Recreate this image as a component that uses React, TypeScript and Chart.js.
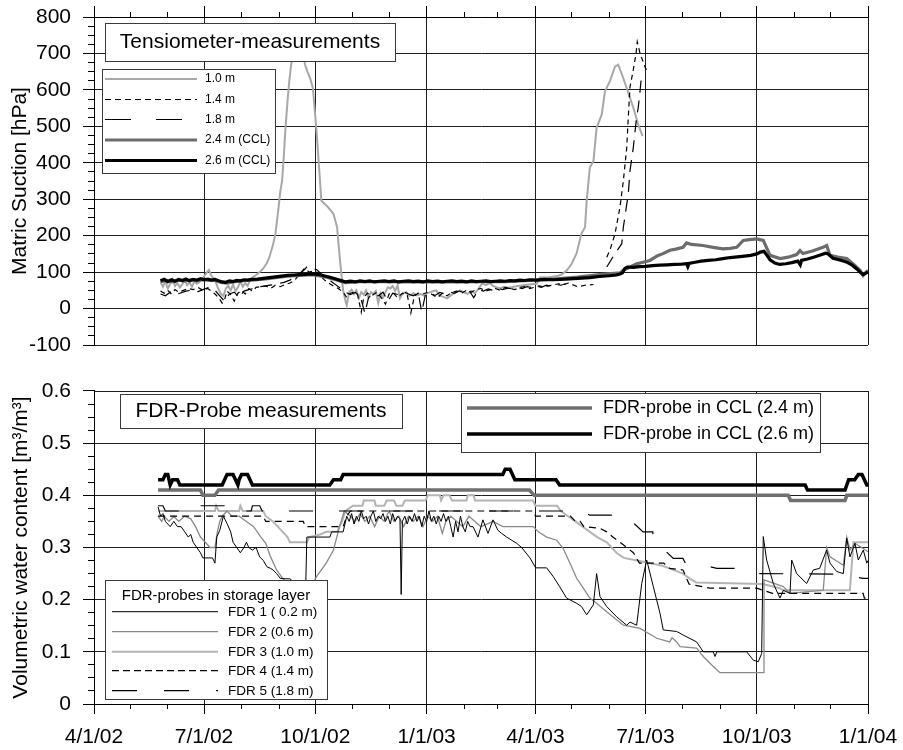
import React, { useEffect, useRef } from 'react';
import { Chart, registerables } from 'chart.js';

Chart.register(...registerables);

const FONT = '"Liberation Sans", Arial, Helvetica, sans-serif';

// ---- X axis: days since 1 April 2002 ----
const xTickDays = [0, 91, 183, 275, 365, 456, 548, 640];
const xTickLabels = ['4/1/02', '7/1/02', '10/1/02', '1/1/03', '4/1/03', '7/1/03', '10/1/03', '1/1/04'];

// ---- Tensiometer series: [day, hPa] ----
const tens10: [number, number | null][] = [
  [55, 72], [57, 60], [59, 75], [61, 55], [63, 68], [65, 80], [67, 62], [69, 70], [71, 58], [73, 66], [75, 78], [77, 64],
  [79, 72], [81, 60], [83, 75], [85, 68], [87, 72], [89, 80], [91, 88], [93, 98], [95, 106], [97, 90], [99, 82], [101, 70],
  [103, 52], [105, 40], [107, 35], [109, 55], [111, 62], [113, 50], [115, 66], [117, 48], [119, 58], [121, 75], [123, 60],
  [125, 70], [127, 62], [129, 78], [131, 85], [134, 92], [137, 100], [140, 110], [143, 125], [145, 141], [148, 175], [150, 205],
  [152, 260], [154, 320], [155.5, 350], [157, 420], [158, 478], [160, 569], [161.5, 624], [163, 669], [165, 700], [167, 735],
  [169, 748], [171, 730], [173, 700], [174.5, 669], [176.5, 650], [178.6, 633], [181, 605], [184, 487], [186.5, 369],
  [188, 296], [193, 280], [198, 260], [201, 223], [203.4, 132], [206, 50], [208, 20], [209, 9], [211, 45], [213, 52],
  [215, 40], [217, 50], [219, 28], [221, 45], [223, 38], [225, 50], [227, 30], [229, 45], [231, 40], [233, 48], [235, 15],
  [237, 42], [239, 30], [241, 45], [243, 58], [245, 55], [247, 62], [249, 48], [251, 64], [253, 28], [255, 40], [258, 45],
  [261, 35], [264, 42], [267, 36], [270, 40], [273, 35], [275, 41], [278, 45], [281, 48], [283, 50], [286, 35], [289, 32],
  [292, 28], [295, 36], [297, 41], [300, 46], [303, 50], [306, 44], [309, 40], [312, 48], [315, 42], [318, 55], [321, 69],
  [324, 64], [327, 70], [330, 62], [333, 58], [336, 56], [339, 60], [342, 57], [346, 59], [350, 62], [355, 64], [360, 66],
  [366, 68], [369, 86], [374, 85], [379, 87], [384, 90], [387, 94], [391, 105], [395, 123], [399, 151], [403, 205],
  [406, 223], [407.4, 296], [410, 387], [413, 405], [415.6, 496], [419.8, 532], [422.5, 596], [426.6, 624], [430.8, 664],
  [433.5, 669], [437.7, 632], [443.2, 578], [446, 551], [450, 505], [453.6, 473],
];

const tens14: [number, number | null][] = [
  [55, 48], [58, 42], [61, 50], [64, 40], [67, 52], [70, 45], [74, 50], [78, 55], [82, 52], [86, 58], [90, 50], [94, 55],
  [97, 48], [100, 40], [103, 30], [106, 15], [108, 25], [110, 48], [113, 38], [116, 20], [119, 42], [122, 50], [125, 40],
  [128, 55], [131, 48], [134, 58], [138, 60], [142, 62], [146, 55], [150, 64], [154, 60], [158, 66], [162, 70], [166, 78],
  [170, 95], [174, 110], [178, 100], [182, 104], [186, 95], [190, 80], [194, 70], [198, 62], [202, 55], [206, 45], [209, 30],
  [212, 42], [215, 45], [218, 38], [221, -10], [223, 30], [226, 42], [230, 36], [234, 45], [238, 28], [241, 12], [244, 40],
  [247, 44], [251, 30], [255, 42], [259, 38], [262, -12], [265, 35], [268, 42], [272, 40], [276, 45], [280, 38], [284, 30],
  [288, 42], [292, 35], [296, 45], [300, 48], [304, 42], [308, 50], [312, 45], [316, 52], [320, 55], [324, 48], [328, 52],
  [332, 55], [336, 50], [340, 58], [344, 55], [348, 52], [352, 58], [356, 60], [360, 55], [364, 58], [368, 62], [372, 60],
  [376, 62], [380, 65], [384, 68], [388, 65], [392, 70], [400, 60], [406, 64], [413, 66], [418, null],
  [424, 141], [426.6, 160], [430.8, 205], [434.9, 278], [437.7, 350], [440.5, 441], [441.8, 526], [443.2, 608],
  [445.9, 654], [448.2, 700], [449.2, 732], [451.5, 700], [455.6, 663], [458.3, 645],
];

const tens18: [number, number | null][] = [
  [55, 40], [59, 35], [63, 45], [67, 38], [71, 42], [76, 48], [80, 50], [85, 45], [90, 52], [95, 58], [100, 50], [104, 35],
  [108, 20], [112, 40], [116, 45], [120, 30], [124, 48], [128, 52], [132, 55], [137, 60], [142, 62], [147, 65], [152, 68],
  [157, 72], [162, 78], [167, 88], [172, 100], [176, 114], [180, 110], [184, 107], [188, 95], [192, 85], [196, 75],
  [200, 65], [204, 55], [208, 45], [212, 38], [216, 44], [220, 36], [224, -13], [227, 30], [231, 40], [235, 35], [239, 45],
  [243, 20], [247, 42], [252, 38], [256, 46], [260, 40], [264, 35], [268, 44], [271, -9], [274, 38], [278, 42], [282, 36],
  [286, 44], [290, 40], [294, 46], [298, 42], [302, 48], [306, 44], [310, 50], [314, 30], [318, 52], [322, 48], [326, 54],
  [330, 50], [334, 55], [338, 52], [342, 56], [346, 54], [350, 58], [354, 55], [358, 60], [362, 58], [366, 62], [370, 58],
  [374, 64], [378, 62], [382, 66], [386, 64], [390, 68], [395, null],
  [424, 114], [430.8, 151], [436.4, 178], [437.7, 223], [441.8, 315], [443.2, 378], [445.9, 441], [448.7, 526],
  [450, 551], [451.5, 597], [452.9, 645],
];

const tens24: [number, number][] = [
  [55, 74], [60, 77], [65, 73], [70, 78], [75, 75], [80, 79], [85, 76], [90, 80], [95, 77], [100, 78], [105, 72],
  [110, 70], [115, 73], [120, 75], [125, 77], [130, 78], [140, 81], [150, 85], [160, 89], [170, 91], [180, 93], [190, 88],
  [200, 79], [208, 71], [220, 74], [240, 74], [260, 73], [280, 73], [300, 73], [320, 74], [340, 74], [360, 77],
  [380, 81], [400, 86], [420, 94], [435, 98], [437.4, 105], [442, 112], [448.7, 123], [454, 127], [459.7, 132],
  [466, 145], [470, 150], [476.3, 160], [481, 163], [487, 168], [490, 180], [494, 176], [503.6, 173], [512, 168],
  [520, 164], [526, 165], [531.4, 168], [536.9, 187], [542, 189], [548, 191], [553.4, 187], [559, 146], [567.3, 137],
  [574, 141], [581, 148], [583.8, 159], [586.2, 151], [594, 158], [602.8, 168], [605.8, 173], [608.6, 146],
  [615, 141], [622.4, 137], [628, 122], [633.4, 105], [636, 91], [638, 98], [640, 105],
];

const tens26: [number, number][] = [
  [55, 76], [58, 80], [61, 74], [64, 79], [67, 75], [70, 80], [73, 77], [76, 81], [79, 76], [82, 80], [85, 78], [88, 82],
  [91, 79], [94, 81], [97, 78], [100, 80], [103, 76], [106, 73], [109, 72], [112, 76], [115, 74], [118, 77], [121, 76],
  [124, 79], [127, 78], [130, 80], [135, 81], [140, 83], [145, 85], [150, 87], [155, 89], [160, 91], [165, 92], [170, 93],
  [175, 94], [180, 95], [185, 94], [190, 90], [195, 86], [200, 81], [205, 76], [208, 73], [212, 75], [216, 73], [220, 76],
  [224, 74], [228, 76], [232, 73], [236, 75], [240, 76], [244, 74], [248, 76], [252, 73], [256, 75], [260, 76], [264, 74],
  [268, 75], [272, 73], [276, 76], [280, 74], [284, 75], [288, 73], [292, 75], [296, 76], [300, 74], [304, 75], [308, 73],
  [312, 76], [316, 74], [320, 75], [324, 76], [328, 74], [332, 75], [336, 76], [340, 75], [344, 77], [348, 76], [352, 78],
  [356, 77], [360, 79], [366, 78], [372, 80], [380, 79], [390, 81], [400, 83], [410, 85], [418, 88], [426, 90], [432, 92],
  [435, 95], [437, 98], [439, 110], [441, 114], [446, 113], [451, 115], [456, 116], [462, 118], [468, 119], [474, 120],
  [480, 121], [486, 122], [490, 123], [491, 115], [492, 124], [497, 127], [502, 130], [508, 132], [514, 134], [520, 137],
  [526, 140], [532, 142], [538, 144], [543, 146], [548, 150], [551, 155], [554, 157], [556, 148], [559, 134], [563, 125],
  [567, 121], [572, 123], [577, 126], [582, 130], [584, 120], [585, 132], [590, 136], [595, 141], [600, 146], [605, 152],
  [607, 150], [611, 138], [616, 134], [622, 128], [627, 119], [631, 108], [634, 98], [636, 93], [638, 97], [640, 100],
];

// ---- FDR series: [day, m3/m3] ----
const fdr1: [number, number][] = [
  [53, 0.378], [55, 0.36], [57, 0.365], [59, 0.35], [61, 0.345], [63, 0.34], [66, 0.35], [69, 0.34], [72, 0.34],
  [75, 0.33], [78, 0.32], [80, 0.325], [82, 0.31], [85, 0.3], [88, 0.29], [90, 0.28], [95, 0.28], [98, 0.28],
  [100, 0.27], [101.5, 0.32], [104, 0.333], [107, 0.36], [110, 0.346], [113, 0.33], [115, 0.31], [118, 0.3],
  [121, 0.29], [124, 0.3], [126, 0.31], [128, 0.3], [131, 0.295], [134, 0.3], [137, 0.282], [140, 0.275],
  [143, 0.263], [146, 0.26], [148, 0.257], [151, 0.25], [154, 0.241], [158, 0.24], [162, 0.24], [166, 0.232],
  [172, 0.225], [175, 0.22], [176, 0.32], [195, 0.32], [196.5, 0.33], [206, 0.33], [209, 0.36], [211, 0.35],
  [213, 0.365], [215, 0.345], [217, 0.36], [219, 0.35], [221, 0.37], [223, 0.355], [225, 0.36], [227, 0.345],
  [229, 0.36], [231, 0.37], [233, 0.35], [235, 0.36], [237, 0.355], [239, 0.365], [241, 0.35], [243, 0.36],
  [245, 0.345], [247, 0.365], [249, 0.35], [251, 0.36], [253, 0.355], [254, 0.21], [255, 0.35], [257, 0.36],
  [259, 0.345], [261, 0.36], [263, 0.35], [265, 0.365], [267, 0.35], [269, 0.36], [271, 0.34], [273, 0.36],
  [275, 0.35], [277, 0.37], [279, 0.35], [281, 0.36], [283, 0.345], [285, 0.36], [287, 0.35], [289, 0.365],
  [291, 0.35], [293, 0.36], [295, 0.34], [297, 0.32], [299, 0.35], [301, 0.33], [303, 0.36], [305, 0.34],
  [307, 0.33], [309, 0.35], [311, 0.34], [313.4, 0.34], [317.5, 0.32], [321.6, 0.353], [325.8, 0.327],
  [329.9, 0.353], [334, 0.333], [337.1, 0.327], [341.2, 0.32], [349.5, 0.308], [353.6, 0.3], [360.5, 0.28],
  [365.2, 0.261], [374.3, 0.261], [379.8, 0.244], [385, 0.225], [390.8, 0.203], [399.1, 0.193], [403, 0.187],
  [407.4, 0.171], [412.9, 0.19], [415.6, 0.25], [418.4, 0.206], [423.9, 0.187], [432.2, 0.167], [440.5, 0.151],
  [443.2, 0.157], [448.7, 0.151], [452.9, 0.231], [457, 0.276], [462.5, 0.225], [468, 0.174], [470.7, 0.142],
  [481.8, 0.139], [487.3, 0.132], [498.3, 0.119], [503.8, 0.1], [512.1, 0.1], [513.5, 0.091], [515, 0.1],
  [539.7, 0.1], [545.2, 0.084], [549.3, 0.081], [552.1, 0.097], [553.4, 0.321], [556.2, 0.276], [561.7, 0.231],
  [567.2, 0.203], [570, 0.218], [575.5, 0.212], [576.9, 0.276], [581, 0.25], [589.3, 0.231], [594.8, 0.257],
  [600, 0.26], [605.8, 0.295], [608.6, 0.27], [614.1, 0.254], [619.6, 0.25], [622.4, 0.318], [625.1, 0.282],
  [629.2, 0.308], [632, 0.276], [636.1, 0.295], [639, 0.27], [640, 0.275],
];

const fdr2: [number, number][] = [
  [53, 0.36], [56, 0.35], [58, 0.36], [62, 0.35], [66, 0.36], [70, 0.35], [75, 0.36], [80, 0.355], [84, 0.34],
  [88, 0.32], [92, 0.31], [96, 0.3], [100, 0.3], [102, 0.33], [104, 0.35], [106, 0.36], [110, 0.37], [114, 0.36],
  [120, 0.36], [126, 0.35], [132, 0.34], [138, 0.32], [142, 0.308], [146, 0.282], [151, 0.257], [156, 0.241],
  [162, 0.225], [170, 0.22], [178, 0.22], [184, 0.244], [192, 0.27], [198, 0.295], [203, 0.34], [207, 0.37],
  [212, 0.36], [216, 0.35], [220, 0.365], [224, 0.35], [228, 0.36], [232, 0.34], [236, 0.36], [240, 0.35],
  [244, 0.37], [248, 0.35], [252, 0.36], [256, 0.34], [260, 0.36], [264, 0.35], [268, 0.36], [272, 0.34],
  [276, 0.36], [280, 0.35], [284, 0.36], [288, 0.327], [291, 0.35], [295, 0.36], [300, 0.35], [305, 0.34],
  [310, 0.36], [315, 0.35], [320, 0.34], [330, 0.35], [338, 0.34], [363.2, 0.34], [367.4, 0.33], [374.3, 0.32],
  [382.6, 0.314], [388, 0.298], [393.6, 0.27], [399.1, 0.241], [404.6, 0.222], [410, 0.203], [415.6, 0.193],
  [423.9, 0.177], [437.7, 0.151], [451.5, 0.145], [465.3, 0.126], [476, 0.119], [478, 0.127], [481.8, 0.119],
  [484.6, 0.11], [498.3, 0.107], [503.8, 0.091], [512.1, 0.072], [517.6, 0.06], [553.4, 0.06], [554, 0.238],
  [570, 0.225], [575.5, 0.212], [603, 0.218], [605.8, 0.3], [608.6, 0.282], [619.6, 0.266], [622.4, 0.32],
  [625.1, 0.295], [629.2, 0.308], [640, 0.292],
];

const fdr3: [number, number][] = [
  [53, 0.37], [100, 0.37], [101, 0.38], [103, 0.37], [120, 0.37], [121, 0.38], [123, 0.37], [140, 0.37],
  [142, 0.36], [148, 0.35], [152, 0.34], [156, 0.33], [160, 0.32], [162, 0.31], [176, 0.31], [178, 0.32],
  [187, 0.325], [192, 0.33], [201, 0.33], [205, 0.35], [208, 0.37], [214, 0.38], [222, 0.38], [223, 0.39],
  [232, 0.39], [233, 0.38], [240, 0.38], [242, 0.39], [248, 0.39], [250, 0.38], [255, 0.38], [257, 0.39],
  [274, 0.39], [276, 0.4], [286, 0.4], [287, 0.39], [289, 0.4], [294, 0.4], [296, 0.39], [308, 0.39], [309, 0.4],
  [314, 0.4], [315, 0.39], [363, 0.39], [365, 0.38], [383, 0.38], [386, 0.37], [392, 0.36], [398, 0.35],
  [404, 0.34], [410, 0.33], [416, 0.32], [424, 0.31], [432, 0.29], [438, 0.28], [449, 0.275], [460, 0.27],
  [470, 0.265], [476, 0.26], [487, 0.25], [493, 0.24], [498, 0.233], [553, 0.23], [567, 0.222], [570, 0.218],
  [625, 0.218], [628, 0.31], [640, 0.31],
];

const fdr4: [number, number][] = [
  [53, 0.36], [140, 0.36], [142, 0.35], [173, 0.35], [175, 0.34], [206, 0.34], [209, 0.36], [212, 0.37],
  [363, 0.37], [365, 0.36], [394, 0.36], [398, 0.35], [402, 0.35], [405, 0.34], [418, 0.337], [424, 0.33],
  [429, 0.32], [435, 0.31], [446, 0.29], [451, 0.27], [471, 0.27], [476, 0.26], [487, 0.257], [492, 0.23],
  [509, 0.222], [548, 0.222], [561, 0.212], [636, 0.212], [637, 0.203], [640, 0.203],
];

const fdr5: [number, number][] = [
  [53, 0.38], [57, 0.38], [59, 0.37], [86, 0.37], [87, 0.38], [109, 0.38], [110, 0.37], [130, 0.37], [131, 0.38],
  [137, 0.38], [139, 0.37], [363, 0.37], [404, 0.37], [410, 0.362], [440, 0.362], [447, 0.345], [454, 0.33],
  [462, 0.33], [463, 0.311], [468, 0.311], [474, 0.29], [479, 0.279], [487, 0.279], [489, 0.27], [497, 0.27],
  [506, 0.265], [515, 0.26], [533, 0.26], [536, 0.254], [545, 0.25], [617, 0.249], [625, 0.245], [636, 0.241],
  [640, 0.241],
];

const ccl24: [number, number][] = [
  [53, 0.41], [88, 0.41], [90, 0.4], [100, 0.4], [103, 0.41], [360, 0.41], [364, 0.4], [574, 0.4], [576, 0.39],
  [621, 0.39], [622.5, 0.4], [640, 0.4],
];

const ccl26: [number, number][] = [
  [53, 0.43], [57, 0.43], [59, 0.44], [61, 0.44], [63, 0.42], [65, 0.43], [69, 0.43], [71, 0.42], [106, 0.42],
  [108, 0.43], [110, 0.44], [115, 0.44], [117, 0.43], [119, 0.42], [120, 0.43], [122, 0.44], [127, 0.44],
  [129, 0.43], [131, 0.42], [195, 0.42], [198, 0.43], [204, 0.43], [206, 0.44], [338, 0.44], [340, 0.45],
  [344, 0.45], [346, 0.44], [348, 0.43], [382, 0.43], [385, 0.42], [588, 0.42], [590, 0.41], [621, 0.41],
  [624, 0.43], [629, 0.43], [632, 0.44], [635, 0.44], [639, 0.42], [640, 0.42],
];

type Sty = { color: string; width: number; dash: number[]; legendDash: number[] };
const S10: Sty = { color: '#a8a8a8', width: 2, dash: [], legendDash: [] };
const S14: Sty = { color: '#000000', width: 1.2, dash: [5, 4], legendDash: [6, 4] };
const S18: Sty = { color: '#000000', width: 1.2, dash: [12, 8], legendDash: [26, 25] };
const S24: Sty = { color: '#6c6c6c', width: 3.2, dash: [], legendDash: [] };
const S26: Sty = { color: '#000000', width: 3.2, dash: [], legendDash: [] };
const F1: Sty = { color: '#000000', width: 1, dash: [], legendDash: [] };
const F2: Sty = { color: '#8a8a8a', width: 1.3, dash: [], legendDash: [] };
const F3: Sty = { color: '#b4b4b4', width: 2, dash: [], legendDash: [] };
const F4: Sty = { color: '#000000', width: 1.2, dash: [7, 5], legendDash: [7, 4] };
const F5: Sty = { color: '#000000', width: 1.2, dash: [24, 26], legendDash: [25, 27] };
const C24: Sty = { color: '#707070', width: 3.5, dash: [], legendDash: [] };
const C26: Sty = { color: '#000000', width: 3.5, dash: [], legendDash: [] };

function ds(label: string, pts: [number, number | null][], s: Sty, order: number) {
  return {
    label,
    data: pts.map(([x, y]) => ({ x, y })),
    borderColor: s.color,
    borderWidth: s.width,
    borderDash: s.dash,
    pointRadius: 0,
    tension: 0,
    fill: false,
    spanGaps: false,
    order,
  };
}

function monthDays(): { d: number; major: boolean }[] {
  const out: { d: number; major: boolean }[] = [];
  const base = Date.UTC(2002, 3, 1);
  for (let i = 0; i <= 21; i++) {
    const y = 2002 + Math.floor((3 + i) / 12);
    const m = (3 + i) % 12;
    out.push({ d: (Date.UTC(y, m, 1) - base) / 86400000, major: m % 3 === 0 });
  }
  return out;
}

const al = (p: number) => Math.round(p - 0.5) + 0.5;

function line(ctx: CanvasRenderingContext2D, x1: number, x2: number, y: number, s: Sty) {
  ctx.save();
  ctx.strokeStyle = s.color;
  ctx.lineWidth = s.width;
  ctx.setLineDash(s.legendDash);
  ctx.beginPath();
  ctx.moveTo(x1, y);
  ctx.lineTo(x2, y);
  ctx.stroke();
  ctx.restore();
}

function box(ctx: CanvasRenderingContext2D, x: number, y: number, w: number, h: number) {
  ctx.save();
  ctx.fillStyle = '#ffffff';
  ctx.fillRect(x, y, w, h);
  ctx.strokeStyle = '#3a3a3a';
  ctx.lineWidth = 1;
  ctx.strokeRect(al(x), al(y), Math.round(w), Math.round(h));
  ctx.restore();
}

function text(ctx: CanvasRenderingContext2D, t: string, x: number, y: number, size: number, align: CanvasTextAlign) {
  ctx.save();
  ctx.fillStyle = '#000';
  ctx.font = `${size}px ${FONT}`;
  ctx.textAlign = align;
  ctx.textBaseline = 'middle';
  ctx.fillText(t, x, y);
  ctx.restore();
}

function ticksPlugin(xSide: 'top' | 'bottom', yStep: number, yMajor: number) {
  return {
    id: 'ticksPlugin',
    afterDraw(chart: any) {
      const { ctx, chartArea: a, scales } = chart;
      const xs = scales.x;
      const ys = scales.y;
      ctx.save();
      ctx.strokeStyle = '#000';
      ctx.lineWidth = 1;
      ctx.setLineDash([]);
      ctx.beginPath();
      const n = Math.round((ys.max - ys.min) / yStep);
      for (let i = 0; i <= n; i++) {
        const v = ys.min + i * yStep;
        const major = Math.abs(v / yMajor - Math.round(v / yMajor)) < 1e-6;
        const y = al(ys.getPixelForValue(v));
        ctx.moveTo(a.left - (major ? 11 : 6), y);
        ctx.lineTo(a.left + (major ? 1 : 0), y);
      }
      for (const m of monthDays()) {
        const x = al(xs.getPixelForValue(m.d));
        if (xSide === 'top') {
          ctx.moveTo(x, a.top - (m.major ? 11 : 5));
          ctx.lineTo(x, a.top);
        } else {
          ctx.moveTo(x, a.bottom);
          ctx.lineTo(x, a.bottom + (m.major ? 10 : 5));
        }
      }
      ctx.stroke();
      ctx.restore();
    },
  };
}

const topOverlay = {
  id: 'topOverlay',
  afterDraw(chart: any) {
    const ctx = chart.ctx as CanvasRenderingContext2D;
    box(ctx, 105, 23, 290, 38);
    text(ctx, 'Tensiometer-measurements', 250, 42.5, 21, 'center');
    box(ctx, 102, 69, 173, 104);
    const items: [string, Sty][] = [['1.0 m', S10], ['1.4 m', S14], ['1.8 m', S18], ['2.4 m (CCL)', S24], ['2.6 m (CCL)', S26]];
    const ys = [79, 99.5, 119.5, 140, 160.5];
    items.forEach(([l, s], i) => {
      line(ctx, 105, 197, ys[i], s);
      text(ctx, l, 205, ys[i], 12, 'left');
    });
  },
};

const bottomOverlay = {
  id: 'bottomOverlay',
  afterDraw(chart: any) {
    const ctx = chart.ctx as CanvasRenderingContext2D;
    box(ctx, 120, 34, 282, 34);
    text(ctx, 'FDR-Probe measurements', 261, 51.5, 21, 'center');
    box(ctx, 461, 33, 359, 59);
    line(ctx, 467, 592, 48, C24);
    text(ctx, 'FDR-probe in CCL (2.4 m)', 603, 48, 18, 'left');
    line(ctx, 467, 592, 74, C26);
    text(ctx, 'FDR-probe in CCL (2.6 m)', 603, 74, 18, 'left');
    box(ctx, 105, 220, 222, 119);
    text(ctx, 'FDR-probes in storage layer', 216, 235.5, 15, 'center');
    const items: [string, Sty][] = [
      ['FDR 1 ( 0.2 m)', F1], ['FDR 2 (0.6 m)', F2], ['FDR 3 (1.0 m)', F3], ['FDR 4 (1.4 m)', F4], ['FDR 5 (1.8 m)', F5],
    ];
    const ys = [251.7, 271.7, 291.7, 310.7, 330.7];
    items.forEach(([l, s], i) => {
      line(ctx, 112, 218, ys[i], s);
      text(ctx, l, 228, ys[i] + 0.5, 13.5, 'left');
    });
  },
};

const GRID = '#1e1e1e';
const NOCOL = 'rgba(0,0,0,0)';

function xScale(show: boolean, pos: 'top' | 'bottom') {
  return {
    type: 'linear' as const,
    position: pos,
    min: 0,
    max: 640,
    afterBuildTicks: (s: any) => {
      s.ticks = xTickDays.map((v) => ({ value: v }));
    },
    afterFit: (s: any) => {
      s.height = show ? 46 : 0;
    },
    grid: { color: GRID, lineWidth: 1, drawTicks: show, tickLength: 21, tickColor: NOCOL },
    border: { display: true, color: '#000', width: 1 },
    ticks: {
      display: show,
      padding: 0,
      color: '#000',
      font: { family: FONT, size: 21 },
      maxRotation: 0,
      autoSkip: false,
      callback: (_v: any, i: number) => xTickLabels[i],
    },
  };
}

function yScale(min: number, max: number, step: number, title: string, titlePad: number, fmt: (v: number) => string) {
  return {
    type: 'linear' as const,
    position: 'left' as const,
    min,
    max,
    afterFit: (s: any) => {
      s.width = 94;
    },
    grid: { color: GRID, lineWidth: 1, drawTicks: true, tickLength: 23, tickColor: NOCOL },
    border: { display: true, color: '#000', width: 1 },
    ticks: {
      stepSize: step,
      padding: 0,
      color: '#000',
      font: { family: FONT, size: 21 },
      callback: (v: any) => fmt(Number(v)),
    },
    title: {
      display: true,
      text: title,
      color: '#000',
      font: { family: FONT, size: 21 },
      padding: { top: titlePad, bottom: 0 },
    },
  };
}

export default function App() {
  const topRef = useRef<HTMLCanvasElement>(null);
  const botRef = useRef<HTMLCanvasElement>(null);

  useEffect(() => {
    const common = {
      responsive: false,
      animation: false as const,
      devicePixelRatio: 1,
      plugins: { legend: { display: false }, tooltip: { enabled: false }, title: { display: false } },
      events: [] as any[],
    };
    const top = new Chart(topRef.current as HTMLCanvasElement, {
      type: 'line',
      data: {
        datasets: [
          ds('2.6 m (CCL)', tens26, S26, 0),
          ds('2.4 m (CCL)', tens24, S24, 1),
          ds('1.4 m', tens14, S14, 2),
          ds('1.8 m', tens18, S18, 3),
          ds('1.0 m', tens10, S10, 4),
        ],
      },
      options: {
        ...common,
        layout: { padding: { top: 17, right: 35, bottom: 15, left: 0 } },
        scales: {
          x: xScale(false, 'top'),
          y: yScale(-100, 800, 100, 'Matric Suction [hPa]', 8, (v) => String(Math.round(v))),
        },
      } as any,
      plugins: [ticksPlugin('top', 25, 100), topOverlay],
    });
    const bot = new Chart(botRef.current as HTMLCanvasElement, {
      type: 'line',
      data: {
        datasets: [
          ds('FDR-probe in CCL (2.6 m)', ccl26, C26, 0),
          ds('FDR-probe in CCL (2.4 m)', ccl24, C24, 1),
          ds('FDR 1 ( 0.2 m)', fdr1, F1, 2),
          ds('FDR 4 (1.4 m)', fdr4, F4, 3),
          ds('FDR 5 (1.8 m)', fdr5, F5, 4),
          ds('FDR 2 (0.6 m)', fdr2, F2, 5),
          ds('FDR 3 (1.0 m)', fdr3, F3, 6),
        ],
      },
      options: {
        ...common,
        layout: { padding: { top: 31, right: 35, bottom: 0, left: 0 } },
        scales: {
          x: xScale(true, 'bottom'),
          y: yScale(0, 0.6, 0.1, 'Volumetric water content [m³/m³]', 9, (v) => (Math.abs(v) < 1e-9 ? '0' : v.toFixed(1))),
        },
      } as any,
      plugins: [ticksPlugin('bottom', 0.025, 0.1), bottomOverlay],
    });
    return () => {
      top.destroy();
      bot.destroy();
    };
  }, []);

  return (
    <div style={{ position: 'absolute', left: 0, top: 0, width: 903, height: 750, background: '#fff' }}>
      <canvas ref={topRef} width={903} height={360} style={{ position: 'absolute', left: 0, top: 0, display: 'block' }} />
      <canvas ref={botRef} width={903} height={390} style={{ position: 'absolute', left: 0, top: 360, display: 'block' }} />
    </div>
  );
}
